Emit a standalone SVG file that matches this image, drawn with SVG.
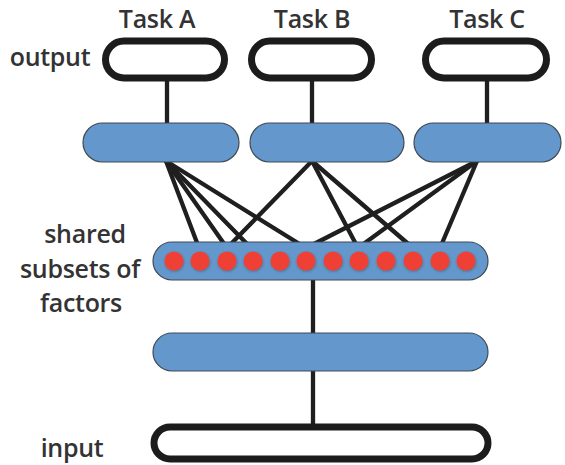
<svg xmlns="http://www.w3.org/2000/svg" width="565" height="465" viewBox="0 0 565 465">
  <defs>
    <style>
      .lbl { font-family: "Open Sans", "DejaVu Sans", sans-serif; font-size: 25px; font-weight: 600; fill: #333333; letter-spacing: -0.3px; }
      .io { fill: #ffffff; stroke: #1c1c1c; stroke-width: 7; }
      .hid { fill: #6497cb; stroke: #3f4a55; stroke-width: 1.2; }
      .dot { fill: #ee4135; }
      .edge { stroke: #1f1f1f; stroke-width: 4.3; stroke-linecap: round; fill: none; }
    </style>
    <filter id="soft" x="-30%" y="-30%" width="160%" height="160%">
      <feDropShadow dx="0.5" dy="1" stdDeviation="1" flood-color="#333" flood-opacity="0.45"/>
    </filter>
  </defs>
  <rect width="565" height="465" fill="#ffffff"/>

  <!-- labels -->
  <text class="lbl" x="157" y="28" text-anchor="middle">Task A</text>
  <text class="lbl" x="312" y="28" text-anchor="middle">Task B</text>
  <text class="lbl" x="487" y="28" text-anchor="middle">Task C</text>
  <text class="lbl" x="50" y="66" text-anchor="middle">output</text>
  <text class="lbl" x="85" y="243" text-anchor="middle">shared</text>
  <text class="lbl" x="80" y="278" text-anchor="middle">subsets of</text>
  <text class="lbl" x="81" y="312" text-anchor="middle">factors</text>
  <text class="lbl" x="72" y="457" text-anchor="middle">input</text>

  <!-- connectors -->
  <g id="connectors">
    <line class="edge" x1="167" y1="80" x2="167" y2="124"/>
    <line class="edge" x1="312" y1="80" x2="312" y2="124"/>
    <line class="edge" x1="487" y1="80" x2="487" y2="124"/>
    <!-- task A head -->
    <line class="edge" x1="166" y1="161" x2="199" y2="248"/>
    <line class="edge" x1="166" y1="161" x2="227" y2="248"/>
    <line class="edge" x1="166" y1="161" x2="251" y2="248"/>
    <line class="edge" x1="166" y1="161" x2="306" y2="248"/>
    <!-- task B head -->
    <line class="edge" x1="312" y1="161" x2="227" y2="248"/>
    <line class="edge" x1="312" y1="161" x2="358" y2="248"/>
    <line class="edge" x1="312" y1="161" x2="413" y2="248"/>
    <!-- task C head -->
    <line class="edge" x1="477" y1="161" x2="306" y2="248"/>
    <line class="edge" x1="477" y1="161" x2="358" y2="248"/>
    <line class="edge" x1="477" y1="161" x2="440" y2="248"/>
    <!-- trunk -->
    <line class="edge" x1="313" y1="279" x2="313" y2="334"/>
    <line class="edge" x1="313" y1="370" x2="313" y2="425"/>
  </g>

  <!-- output layer -->
  <g id="outA"><rect class="io" x="105.5" y="41" width="119" height="37" rx="18.5"/></g>
  <g id="outB"><rect class="io" x="251.5" y="41" width="120" height="37" rx="18.5"/></g>
  <g id="outC"><rect class="io" x="425.5" y="41" width="121" height="37" rx="18.5"/></g>

  <!-- task-specific layers -->
  <g id="headA"><rect class="hid" x="83" y="123" width="156" height="39" rx="19.5"/></g>
  <g id="headB"><rect class="hid" x="250" y="123" width="154" height="39" rx="19.5"/></g>
  <g id="headC"><rect class="hid" x="414" y="123" width="147" height="39" rx="19.5"/></g>

  <!-- shared factor layer -->
  <g id="shared">
    <rect class="hid" x="153" y="242" width="335" height="38" rx="19"/>
    <g filter="url(#soft)">
      <circle class="dot" cx="174" cy="261" r="9.5"/>
      <circle class="dot" cx="200" cy="261" r="9.5"/>
      <circle class="dot" cx="227" cy="261" r="9.5"/>
      <circle class="dot" cx="253" cy="261" r="9.5"/>
      <circle class="dot" cx="280" cy="261" r="9.5"/>
      <circle class="dot" cx="306" cy="261" r="9.5"/>
      <circle class="dot" cx="333" cy="261" r="9.5"/>
      <circle class="dot" cx="359" cy="261" r="9.5"/>
      <circle class="dot" cx="386" cy="261" r="9.5"/>
      <circle class="dot" cx="413" cy="261" r="9.5"/>
      <circle class="dot" cx="440" cy="261" r="9.5"/>
      <circle class="dot" cx="466" cy="261" r="9.5"/>
    </g>
  </g>

  <!-- lower layer -->
  <g id="lower"><rect class="hid" x="153" y="333" width="335" height="38" rx="19"/></g>

  <!-- input -->
  <g id="input"><rect class="io" x="154" y="427" width="334" height="32" rx="16"/></g>
</svg>
